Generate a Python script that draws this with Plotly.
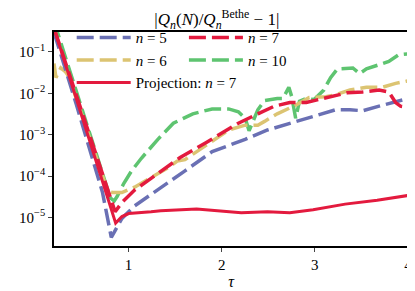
import plotly.graph_objects as go

# ---- data ----
tau_n5 = [0.20, 0.440, 0.721, 0.815, 0.856, 0.929, 1.065, 1.315, 1.606, 1.898, 2.252, 2.492,
          2.731, 3.085, 3.221, 3.377, 3.513, 3.690, 3.867, 4.0]
val_n5 = [3.0e-1, 5.4e-3, 4.0e-5, 3.3e-6, 4.8e-6, 9.5e-6, 1.9e-5, 4.6e-5, 1.34e-4, 3.9e-4,
          7.7e-4, 1.3e-3, 1.9e-3, 3.2e-3, 4.0e-3, 4.0e-3, 3.8e-3, 4.9e-3, 6.4e-3, 7.5e-3]

tau_n6 = [0.20, 0.221, 0.273, 0.325, 0.367, 0.408, 0.773, 0.825, 0.929, 1.065, 1.242, 1.419,
          1.523, 1.606, 1.658, 1.835, 2.075, 2.252, 2.388, 2.460, 2.596, 2.773, 2.940, 3.117,
          3.221, 3.377, 3.554, 3.721, 3.867, 4.0]
val_n6 = [5.3e-2, 2.4e-2, 4.1e-2, 3.3e-2, 2.4e-2, 1.2e-2, 4.6e-5, 4.0e-5, 4.0e-5, 5.4e-5,
          9.2e-5, 1.57e-4, 2.3e-4, 2.5e-4, 3.0e-4, 5.6e-4, 1.3e-3, 1.7e-3, 1.7e-3, 2.1e-3,
          3.2e-3, 4.9e-3, 7.9e-3, 8.3e-3, 9.2e-3, 1.2e-2, 1.4e-2, 1.4e-2, 1.74e-2, 2.0e-2]

tau_n7 = [0.20, 0.856, 0.929, 1.065, 1.242, 1.450, 1.554, 1.835, 2.179, 2.388, 2.565, 2.731,
          2.908, 3.044, 3.169, 3.346, 3.513, 3.690, 3.794, 3.825, 3.867, 3.919, 4.0]
val_n7 = [3.8e-1, 1.37e-5, 2.3e-5, 4.6e-5, 8.8e-5, 1.9e-4, 2.8e-4, 6.5e-4, 1.9e-3, 3.2e-3,
          4.9e-3, 6.0e-3, 6.0e-3, 7.1e-3, 8.3e-3, 1.03e-2, 1.08e-2, 1.2e-2, 1.08e-2, 8.3e-3,
          6.0e-3, 4.9e-3, 4.6e-3]

tau_n10 = [0.20, 0.804, 0.846, 0.877, 0.950, 1.033, 1.138, 1.315, 1.481, 1.690, 1.898, 2.075,
           2.179, 2.252, 2.294, 2.335, 2.388, 2.460, 2.596, 2.658, 2.721, 2.752, 2.794, 2.835,
           2.908, 2.992, 3.096, 3.169, 3.242, 3.408, 3.481, 3.554, 3.690, 3.794, 3.898, 4.0]
val_n10 = [5.5e-1, 3.0e-5, 2.5e-5, 3.2e-5, 6.7e-5, 1.34e-4, 2.7e-4, 7.7e-4, 1.9e-3, 3.2e-3,
           4.2e-3, 4.2e-3, 3.6e-3, 2.5e-3, 1.24e-3, 2.1e-3, 4.0e-3, 6.7e-3, 7.5e-3, 7.5e-3,
           1.4e-2, 8.3e-3, 2.5e-3, 6.4e-3, 7.5e-3, 7.1e-3, 1.2e-2, 2.4e-2, 3.9e-2, 4.1e-2,
           3.0e-2, 3.9e-2, 5.0e-2, 5.9e-2, 8.5e-2, 9.0e-2]

tau_proj = [0.20, 0.862, 0.929, 1.002, 1.242, 1.346, 1.731, 1.971, 2.210, 2.492, 2.731, 2.981,
            3.325, 3.669, 4.0]
val_proj = [3.8e-1, 7.3e-6, 1.05e-5, 1.24e-5, 1.37e-5, 1.45e-5, 1.6e-5, 1.45e-5, 1.3e-5,
            1.37e-5, 1.3e-5, 1.53e-5, 2.1e-5, 2.6e-5, 3.4e-5]

y_tickvals = [1e-5, 1e-4, 1e-3, 1e-2, 1e-1]
y_ticktext = ["10<sup>\u22125</sup>", "10<sup>\u22124</sup>", "10<sup>\u22123</sup>",
              "10<sup>\u22122</sup>", "10<sup>\u22121</sup>"]
x_tickvals = [1, 2, 3, 4]

BLUE = "#6a70b4"
RED = "#e31a3e"
YELLOW = "#dcc472"
GREEN = "#5ec470"
FONT = "Liberation Serif"
DASH = "17px,6px"

fig = go.Figure()
fig.add_trace(go.Scatter(x=tau_n10, y=val_n10, mode="lines", name="<i>n</i> = 10",
                         line=dict(color=GREEN, width=3.5, dash=DASH),
                         legend="legend2", legendrank=2))
fig.add_trace(go.Scatter(x=tau_n6, y=val_n6, mode="lines", name="<i>n</i> = 6",
                         line=dict(color=YELLOW, width=3.5, dash=DASH),
                         legend="legend", legendrank=2))
fig.add_trace(go.Scatter(x=tau_n5, y=val_n5, mode="lines", name="<i>n</i> = 5",
                         line=dict(color=BLUE, width=3.5, dash=DASH),
                         legend="legend", legendrank=1))
fig.add_trace(go.Scatter(x=tau_n7, y=val_n7, mode="lines", name="<i>n</i> = 7",
                         line=dict(color=RED, width=3.5, dash=DASH),
                         legend="legend2", legendrank=1))
fig.add_trace(go.Scatter(x=tau_proj, y=val_proj, mode="lines", name="Projection: <i>n</i> = 7",
                         line=dict(color=RED, width=3),
                         legend="legend", legendrank=3))

leg_common = dict(bgcolor="rgba(0,0,0,0)", borderwidth=0,
                  font=dict(family=FONT, size=15, color="black"),
                  yanchor="top", xanchor="left", itemwidth=54)

fig.update_layout(
    width=415, height=291,
    margin=dict(l=40, r=11, t=24, b=42),
    paper_bgcolor="white", plot_bgcolor="white",
    font=dict(family=FONT, size=15, color="black"),
    title=dict(text="|<i>Q<sub>n</sub></i>(<i>N</i>)/<i>Q<sub>n</sub></i><sup>Bethe</sup> \u2212 1|",
               xref="paper", x=0.46, xanchor="center", y=0.982, yanchor="top",
               font=dict(family=FONT, size=17, color="black")),
    legend=dict(x=0.05, y=1.05, **leg_common),
    legend2=dict(x=0.367, y=1.05, **leg_common),
    xaxis=dict(range=[0.2, 4.0], tickvals=x_tickvals, ticks="outside", ticklen=4,
               tickwidth=1.3, showline=True, linecolor="black", linewidth=1.5, mirror=True,
               showgrid=False, zeroline=False,
               title=dict(text="<i>\u03c4</i>", font=dict(family=FONT, size=16), standoff=4),
               tickfont=dict(family=FONT, size=15)),
    yaxis=dict(type="log", range=[-5.69, -0.517], tickvals=y_tickvals, ticktext=y_ticktext,
               ticks="outside", ticklen=4, tickwidth=1.3, showline=True, linecolor="black",
               linewidth=1.5, mirror=True, showgrid=False, zeroline=False,
               tickfont=dict(family=FONT, size=15)),
)

fig.write_html("out.html")
